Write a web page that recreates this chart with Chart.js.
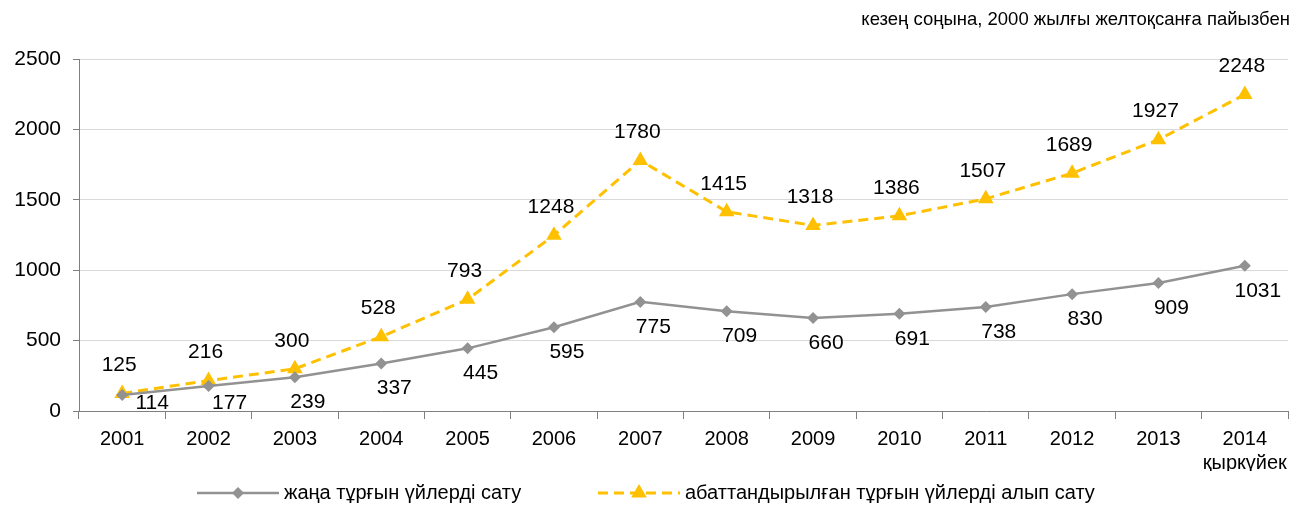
<!DOCTYPE html>
<html>
<head>
<meta charset="utf-8">
<script src="https://cdn.jsdelivr.net/npm/chart.js@4"></script>
<style>
  html, body { margin: 0; padding: 0; background: #fff; }
  #priceChart { display: block; }
</style>
</head>
<body>
<canvas id="priceChart" width="1297" height="505"></canvas>
<script>
// periods on the x axis (last one is september)
const years = ['2001','2002','2003','2004','2005','2006','2007','2008','2009','2010','2011','2012','2013',['2014','қыркүйек']]

// new housing sales
const newHomes = [114,177,239,337,445,595,775,709,660,691,738,830,909,1031]
// resale of improved housing
const resaleHomes = [125,216,300,528,793,1248,1780,1415,1318,1386,1507,1689,1927,2248]

const seriesNames = ['жаңа тұрғын үйлерді сату','абаттандырылған тұрғын үйлерді алып сату']
const subtitle = 'кезең соңына, 2000 жылғы желтоқсанға пайызбен'

const FONT = "'Liberation Sans', Arial, sans-serif"
const GREY = '#929292'
const GOLD = '#FFC000'

// numbers next to every point: grey ones sit under the line, gold ones above
const valueLabels = {
  id: 'valueLabels',
  afterDatasetsDraw(chart){
    const ctx = chart.ctx
    const floor = chart.chartArea.bottom - 8
    ctx.save()
    ctx.font = '21px ' + FONT
    ctx.fillStyle = '#000'
    ctx.textAlign = 'center'
    ctx.textBaseline = 'middle'
    chart.data.datasets.forEach((ds, i) => {
      const meta = chart.getDatasetMeta(i)
      const shift = i === 0 ? {x: 13, y: 25} : {x: -3, y: -28}
      meta.data.forEach((pt, j) => {
        let x = pt.x + shift.x, y = pt.y + shift.y
        // keep low labels off the axis, pushing them sideways instead
        if (y > floor) { x += y - floor; y = floor }
        ctx.fillText(String(ds.data[j]), x, y)
      })
    })
    ctx.restore()
  }
}

// unit note in the top right corner
const unitNote = {
  id: 'unitNote',
  afterDraw(chart){
    const ctx = chart.ctx
    ctx.save()
    ctx.font = '18.5px ' + FONT
    ctx.fillStyle = '#000'
    ctx.textAlign = 'right'
    ctx.textBaseline = 'middle'
    ctx.fillText(subtitle, 1290, 20)
    ctx.restore()
  }
}

// legend with a short line and the marker in its middle
const lineLegend = {
  id: 'lineLegend',
  afterDraw(chart){
    const ctx = chart.ctx
    const y = 493
    const starts = [197, 598]
    ctx.save()
    chart.data.datasets.forEach((ds, i) => {
      const x0 = starts[i], x1 = x0 + 82
      ctx.strokeStyle = ds.borderColor
      ctx.lineWidth = ds.borderWidth
      ctx.setLineDash(ds.borderDash || [])
      ctx.beginPath()
      ctx.moveTo(x0, y)
      ctx.lineTo(x1, y)
      ctx.stroke()
      ctx.setLineDash([])
      ctx.fillStyle = ds.pointBackgroundColor
      Chart.helpers.drawPoint(ctx, {pointStyle: ds.pointStyle, radius: ds.pointRadius, borderWidth: 0}, (x0 + x1) / 2, y)
      ctx.fillStyle = '#000'
      ctx.font = '20px ' + FONT
      ctx.textAlign = 'left'
      ctx.textBaseline = 'middle'
      ctx.fillText(ds.label, x1 + 5, y)
    })
    ctx.restore()
  }
}

const ctx = document.getElementById('priceChart').getContext('2d')
new Chart(ctx, {
  type: 'line',
  data: {
    labels: years,
    datasets: [{
      label: seriesNames[0],
      data: newHomes,
      borderColor: GREY,
      backgroundColor: GREY,
      pointBackgroundColor: GREY,
      pointBorderWidth: 0,
      borderWidth: 2.5,
      pointStyle: 'rectRot',
      pointRadius: 6,
      tension: 0
    }, {
      label: seriesNames[1],
      data: resaleHomes,
      borderColor: GOLD,
      backgroundColor: GOLD,
      pointBackgroundColor: GOLD,
      pointBorderWidth: 0,
      borderWidth: 3,
      borderDash: [10, 6],
      pointStyle: 'triangle',
      pointRadius: 9,
      tension: 0
    }]
  },
  options: {
    responsive: false,
    animation: false,
    devicePixelRatio: 1,
    layout: { padding: { top: 59, right: 5, bottom: 34, left: 0 } },
    plugins: {
      legend: { display: false },
      tooltip: { enabled: false }
    },
    scales: {
      x: {
        offset: true,
        grid: { offset: true, drawOnChartArea: false, tickLength: 8, color: '#7f7f7f', tickColor: '#7f7f7f' },
        border: { color: '#7f7f7f', width: 1 },
        ticks: { color: '#000', font: { family: FONT, size: 20 }, padding: 8, maxRotation: 0, autoSkip: false },
        afterFit: s => { s.height = 60 }
      },
      y: {
        min: 0,
        max: 2500,
        ticks: { stepSize: 500, color: '#000', font: { family: FONT, size: 21 }, padding: 12, callback: v => String(v) },
        grid: { color: '#d9d9d9', tickColor: '#7f7f7f', tickLength: 6 },
        border: { color: '#7f7f7f', width: 1 },
        afterFit: s => { s.width = 79 }
      }
    }
  },
  plugins: [valueLabels, unitNote, lineLegend]
})
</script>
</body>
</html>
